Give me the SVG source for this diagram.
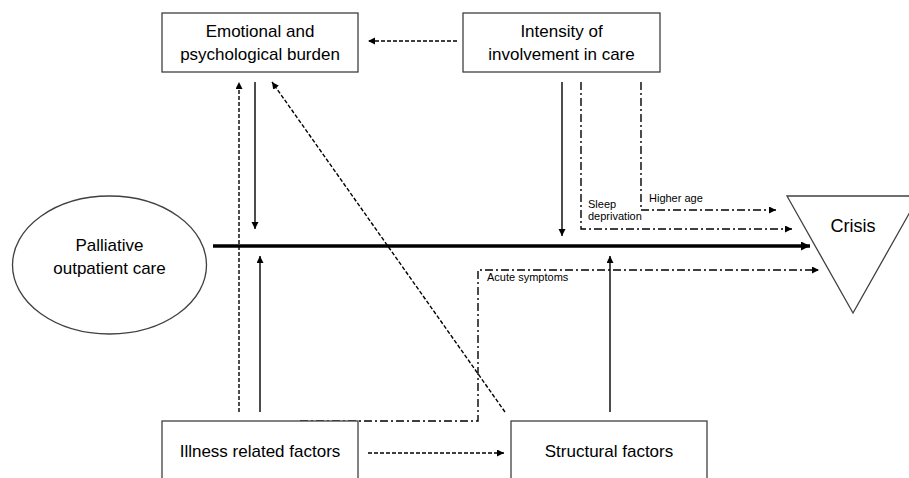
<svg xmlns="http://www.w3.org/2000/svg" width="909" height="478" viewBox="0 0 909 478">
<style>
.box{fill:#fff;stroke:#404040;stroke-width:1.3}
.t{font-family:"Liberation Sans",Arial,sans-serif;font-size:17px;fill:#000;text-anchor:middle}
.s{font-family:"Liberation Sans",Arial,sans-serif;font-size:11px;fill:#000}
.c{fill:none;stroke:#000;stroke-width:1.4}
.dash{stroke-dasharray:4 2}
.dd{stroke-dasharray:8 3 2 3}
</style>
<defs>
<marker id="a" markerUnits="userSpaceOnUse" markerWidth="10" markerHeight="10" refX="7" refY="3.5" orient="auto">
<path d="M0,0 L7,3.5 L0,7 Z" fill="#000"/>
</marker>
<marker id="ab" markerUnits="userSpaceOnUse" markerWidth="12" markerHeight="12" refX="9" refY="4.5" orient="auto">
<path d="M0,0 L9,4.5 L0,9 Z" fill="#000"/>
</marker>
</defs>
<g id="connectors">
<line class="c dash" x1="457" y1="41" x2="368" y2="41" marker-end="url(#a)"/>
<line class="c dash" x1="239" y1="412" x2="239" y2="82" marker-end="url(#a)"/>
<line class="c" x1="255" y1="82" x2="255" y2="229" marker-end="url(#a)"/>
<line class="c dash" x1="505" y1="412" x2="272" y2="82" marker-end="url(#a)"/>
<line class="c" x1="260" y1="412" x2="260" y2="256" marker-end="url(#a)"/>
<line class="c" x1="213" y1="246" x2="810" y2="246" style="stroke-width:3.4" marker-end="url(#ab)"/>
<line class="c" x1="562" y1="82" x2="562" y2="236" marker-end="url(#a)"/>
<path class="c dd" d="M581,82 V229 H792" marker-end="url(#a)"/>
<path class="c dd" d="M641,82 V210 H776" marker-end="url(#a)"/>
<path class="c dd" d="M300,421 H478 V270 H819" marker-end="url(#a)"/>
<line class="c" x1="610" y1="412" x2="610" y2="256" marker-end="url(#a)"/>
<line class="c dash" x1="368" y1="453" x2="504" y2="453" marker-end="url(#a)"/>
<text class="s" x="588" y="208">Sleep</text>
<text class="s" x="588" y="220">deprivation</text>
<text class="s" x="649" y="202">Higher age</text>
<text class="s" x="487" y="281">Acute symptoms</text>
</g>
<g id="emotional">
<rect class="box" x="162" y="13" width="196" height="59"/>
<text class="t" x="260" y="37">Emotional and</text>
<text class="t" x="260" y="60">psychological burden</text>
</g>
<g id="intensity">
<rect class="box" x="463" y="13" width="197" height="59"/>
<text class="t" x="561.5" y="37">Intensity of</text>
<text class="t" x="561.5" y="60">involvement in care</text>
</g>
<g id="palliative">
<ellipse class="box" cx="109.5" cy="265" rx="97" ry="69"/>
<text class="t" x="109.5" y="251">Palliative</text>
<text class="t" x="109.5" y="274">outpatient care</text>
</g>
<g id="crisis">
<polygon class="box" points="787,196 919,196 853,313"/>
<text class="t" x="853" y="232" style="font-size:18px">Crisis</text>
</g>
<g id="illness">
<rect class="box" x="162" y="421" width="196" height="80"/>
<text class="t" x="260" y="457">Illness related factors</text>
</g>
<g id="structural">
<rect class="box" x="511" y="421" width="196" height="80"/>
<text class="t" x="609" y="457">Structural factors</text>
</g>
</svg>
